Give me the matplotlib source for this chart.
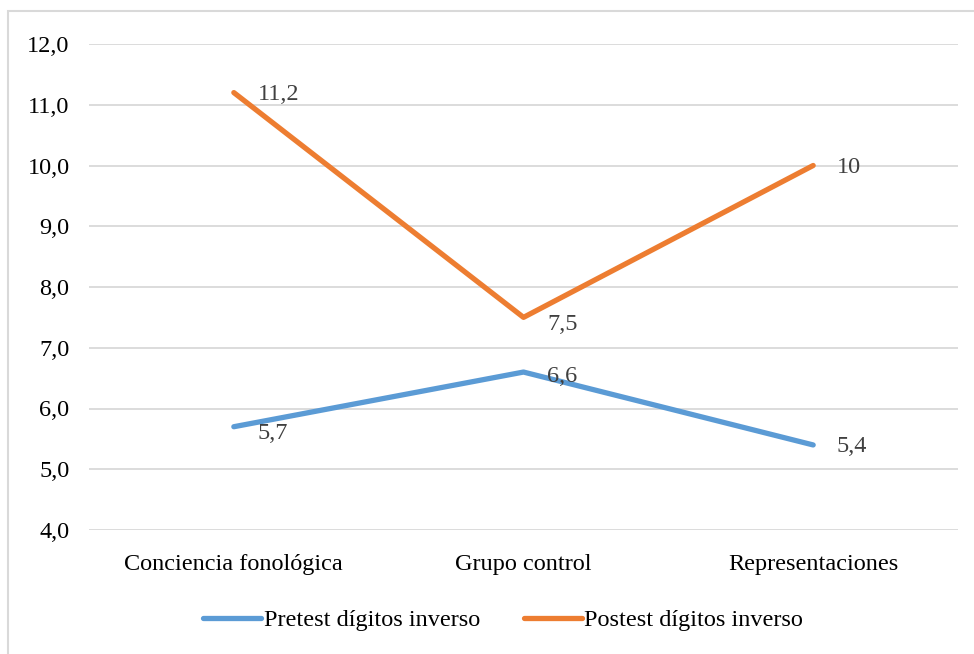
import matplotlib
matplotlib.use("Agg")
import matplotlib.pyplot as plt
from matplotlib.patches import Rectangle

plt.rcParams['font.family'] = ['Liberation Serif', 'DejaVu Serif']

grupos = ["Conciencia fonológica", "Grupo control", "Representaciones"]
pretest = [5.7, 6.6, 5.4]
postest = [11.2, 7.5, 10.0]
pre_labels = ["5,7", "6,6", "5,4"]
post_labels = ["11,2", "7,5", "10"]
yticks = [4, 5, 6, 7, 8, 9, 10, 11, 12]

fs = 17.5

fig = plt.figure(figsize=(9.74, 6.54), dpi=100)
ax = fig.add_axes([89 / 974, 1 - 530 / 654, (958 - 89) / 974, (530 - 44) / 654])

# marco gris alrededor del grafico
fig.patches.append(Rectangle((8 / 974, -0.05), 1.1, 1 - 11 / 654 + 0.05,
                             transform=fig.transFigure, fill=False,
                             edgecolor="#d9d9d9", linewidth=1.5))

x = range(len(grupos))
ax.plot(x, pretest, color="#5B9BD5", linewidth=3.8, solid_capstyle="round",
        label="Pretest dígitos inverso")
ax.plot(x, postest, color="#ED7D31", linewidth=3.8, solid_capstyle="round",
        label="Postest dígitos inverso")

for i, (v, t) in enumerate(zip(pretest, pre_labels)):
    dy = -5 if i == 0 else (-3 if i == 1 else -1)
    ax.annotate(t, (i, v), xytext=(17, dy), textcoords="offset points",
                va="center", ha="left", fontsize=fs, color="#404040")
for i, (v, t) in enumerate(zip(postest, post_labels)):
    dy = -5 if i == 1 else -1.5
    ax.annotate(t, (i, v), xytext=(17, dy), textcoords="offset points",
                va="center", ha="left", fontsize=fs, color="#404040")

ax.set_xlim(-0.5, 2.5)
ax.set_ylim(4, 12)
ax.set_yticks(yticks)
ax.set_yticklabels([f"{v:.1f}".replace(".", ",") for v in yticks], fontsize=fs)
ax.set_xticks(list(x))
ax.set_xticklabels(grupos, fontsize=fs)
ax.tick_params(axis="y", length=0, pad=14)
ax.tick_params(axis="x", length=0, pad=17)
ax.grid(axis="y", color="#d9d9d9", linewidth=1.3)
ax.set_axisbelow(True)
for s in ax.spines.values():
    s.set_visible(False)

fig.legend(loc="center", bbox_to_anchor=(503 / 974, 1 - 620 / 654), ncol=2,
           frameon=False, fontsize=fs, handlelength=2.4, handletextpad=0.1,
           columnspacing=1.8)

fig.savefig("out.png", dpi=100)
